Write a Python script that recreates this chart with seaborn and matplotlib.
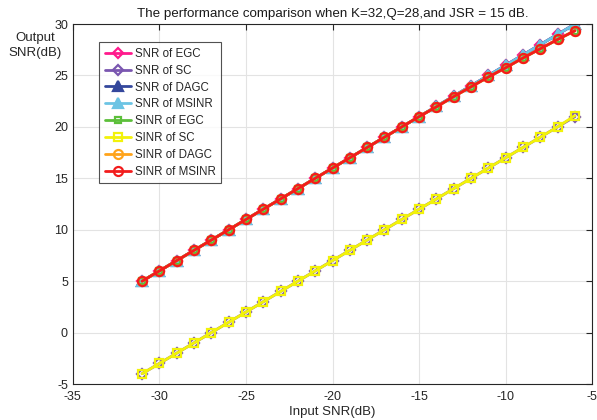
import numpy as np
import matplotlib
matplotlib.use("Agg")
import matplotlib.pyplot as plt
import seaborn as sns

sns.set_style("white")
plt.rcParams['font.family'] = ['Liberation Sans', 'DejaVu Sans']
plt.rcParams['axes.unicode_minus'] = False

input_snr = [-31, -30, -29, -28, -27, -26, -25, -24, -23, -22, -21, -20, -19,
             -18, -17, -16, -15, -14, -13, -12, -11, -10, -9, -8, -7, -6]

snr_egc = [5, 6, 7, 8, 9, 10, 11, 12, 13, 14, 15, 16, 17, 18, 19, 20, 21, 22, 23, 24, 25, 26, 27, 28, 29, 30]
snr_sc = [-4, -3, -2, -1, 0, 1, 2, 3, 4, 5, 6, 7, 8, 9, 10, 11, 12, 13, 14, 15, 16, 17, 18, 19, 20, 21]
snr_dagc = [5, 6, 7, 8, 9, 10, 11, 12, 13, 14, 15, 16, 17, 18, 19, 20, 21, 22, 23, 24, 25, 26, 27, 28, 29, 30]
snr_msinr = [5, 6, 7, 8, 9, 10, 11, 12, 13, 14, 15, 16, 17, 18, 19, 20, 21, 22, 23, 24, 25, 26, 27, 28, 29, 30]
sinr_egc = [5, 6, 7, 8, 9, 10, 11, 12, 13, 14, 15, 16, 17, 18, 19, 20, 21, 21.95, 22.95, 23.9, 24.85, 25.75, 26.7, 27.6, 28.5, 29.35]
sinr_sc = [-4, -3, -2, -1, 0, 1, 2, 3, 4, 5, 6, 7, 8, 9, 10, 11, 12, 13, 14, 15, 16, 17, 18, 19, 20, 21.1]
sinr_dagc = [5, 6, 7, 8, 9, 10, 11, 12, 13, 14, 15, 16, 17, 18, 19, 20, 21, 21.95, 22.95, 23.9, 24.85, 25.75, 26.7, 27.6, 28.5, 29.35]
sinr_msinr = [5, 6, 7, 8, 9, 10, 11, 12, 13, 14, 15, 16, 17, 18, 19, 20, 21, 21.95, 22.95, 23.9, 24.85, 25.75, 26.7, 27.6, 28.5, 29.35]

labels = ["SNR of EGC", "SNR of SC", "SNR of DAGC", "SNR of MSINR",
          "SINR of EGC", "SINR of SC", "SINR of DAGC", "SINR of MSINR"]
series = [snr_egc, snr_sc, snr_dagc, snr_msinr, sinr_egc, sinr_sc, sinr_dagc, sinr_msinr]
colors = ["#FF1A8C", "#7A56B0", "#34479C", "#6CC4E4",
          "#5CBF3A", "#F2F20A", "#FFA31A", "#F21C1C"]
markers = ["D", "D", "^", "^", "s", "s", "o", "o"]
mfc = ["none", "none", None, None, "none", "none", "none", "none"]
msizes = [5, 5, 7, 7, 5, 6, 6.5, 6.5]

fig = plt.figure(figsize=(5.97, 4.2), dpi=100)
ax = fig.add_axes([0.122, 0.0857, 0.870, 0.857])

for lab, ys, c, m, fc, ms in zip(labels, series, colors, markers, mfc, msizes):
    kw = dict(marker=m, markersize=ms, markeredgecolor=c, markeredgewidth=1.6)
    if fc is not None:
        kw["markerfacecolor"] = fc
    else:
        kw["markerfacecolor"] = c
    sns.lineplot(x=input_snr, y=ys, ax=ax, color=c, linewidth=2.0, label=lab, **kw)

ax.set_xlim(-35, -5)
ax.set_ylim(-5, 30)
ax.set_xticks([-35, -30, -25, -20, -15, -10, -5])
ax.set_yticks([-5, 0, 5, 10, 15, 20, 25, 30])
ax.grid(True, color="#E3E3E3", linewidth=0.8)
ax.set_axisbelow(True)
for s in ax.spines.values():
    s.set_visible(True)
    s.set_color("#262626")
    s.set_linewidth(0.8)
ax.tick_params(direction="in", length=4, width=0.8, colors="#262626",
               labelsize=9, top=True, right=True, labelcolor="#262626")
ax.tick_params(axis="x", pad=5)

ax.set_title("The performance comparison when K=32,Q=28,and JSR = 15 dB.",
             fontsize=9.6, color="#1a1a1a", pad=5)
ax.set_xlabel("Input SNR(dB)", fontsize=9.5, color="#262626", labelpad=2)
ax.set_ylabel("Output\nSNR(dB)", fontsize=9.5, color="#262626", rotation=0,
              ha="center", va="center", linespacing=1.3)
ax.yaxis.set_label_coords(-0.073, 0.94)

leg = ax.legend(loc="upper left", bbox_to_anchor=(0.05, 0.95), fontsize=8.3,
                frameon=True, fancybox=False, edgecolor="#262626",
                handlelength=2.3, handletextpad=0.3, borderpad=0.5,
                labelspacing=0.42, borderaxespad=0)
leg.get_frame().set_linewidth(0.8)

fig.savefig("out.png", dpi=100)
